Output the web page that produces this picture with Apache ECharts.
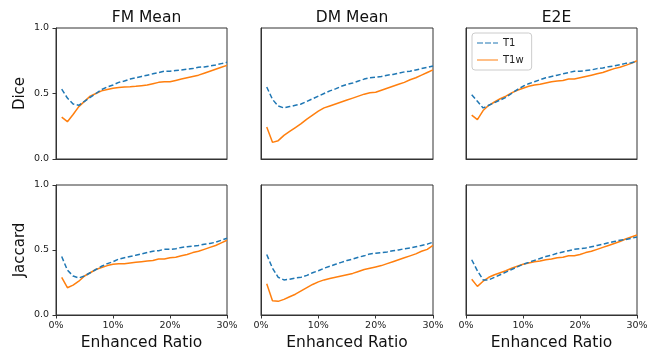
<!DOCTYPE html>
<html><head><meta charset="utf-8">
<script src="https://cdn.jsdelivr.net/npm/echarts@6/dist/echarts.min.js"></script>
<style>html,body{margin:0;padding:0;background:#fff}#c{width:660px;height:352px}</style>
</head><body><div id="c"></div>
<script>
const ratios = [1,2,3,4,5,6,7,8,9,10,11,12,13,14,15,16,17,18,19,20,21,22,23,24,25,26,27,28,29,30];
const methods = ['FM Mean','DM Mean','E2E'];
const metrics = ['Dice','Jaccard'];
const xTicks = ['0%','10%','20%','30%'];
const yTicks = ['0.0','0.5','1.0'];

const fmDiceT1  = [0.533,0.465,0.42,0.41,0.44,0.47,0.50,0.53,0.55,0.565,0.585,0.595,0.61,0.62,0.63,0.64,0.65,0.66,0.67,0.67,0.675,0.68,0.685,0.69,0.70,0.703,0.71,0.718,0.728,0.738];
const fmDiceT1w = [0.32,0.285,0.34,0.40,0.44,0.48,0.50,0.52,0.53,0.54,0.545,0.55,0.552,0.555,0.56,0.565,0.575,0.585,0.59,0.59,0.60,0.61,0.62,0.63,0.64,0.655,0.67,0.685,0.70,0.715];
const dmDiceT1  = [0.55,0.455,0.405,0.39,0.40,0.41,0.42,0.44,0.46,0.48,0.50,0.52,0.535,0.555,0.57,0.58,0.595,0.61,0.62,0.625,0.63,0.64,0.645,0.655,0.665,0.67,0.68,0.69,0.70,0.71];
const dmDiceT1w = [0.245,0.127,0.14,0.18,0.21,0.24,0.27,0.305,0.335,0.365,0.39,0.405,0.42,0.435,0.45,0.465,0.48,0.495,0.505,0.51,0.525,0.54,0.555,0.57,0.585,0.605,0.62,0.64,0.66,0.68];
const e2eDiceT1  = [0.49,0.44,0.39,0.41,0.43,0.45,0.47,0.50,0.53,0.555,0.575,0.59,0.605,0.62,0.63,0.64,0.65,0.66,0.67,0.67,0.675,0.68,0.69,0.695,0.705,0.71,0.72,0.73,0.735,0.745];
const e2eDiceT1w = [0.335,0.30,0.37,0.41,0.435,0.46,0.48,0.505,0.525,0.54,0.555,0.565,0.57,0.58,0.59,0.595,0.60,0.61,0.61,0.62,0.63,0.64,0.65,0.66,0.675,0.69,0.70,0.715,0.73,0.75];
const fmJacT1  = [0.45,0.345,0.30,0.285,0.30,0.325,0.35,0.375,0.395,0.41,0.43,0.44,0.45,0.46,0.47,0.48,0.49,0.495,0.505,0.505,0.51,0.52,0.525,0.53,0.535,0.545,0.55,0.56,0.575,0.59];
const fmJacT1w = [0.29,0.21,0.23,0.26,0.30,0.325,0.35,0.365,0.38,0.39,0.395,0.395,0.40,0.405,0.41,0.415,0.42,0.43,0.43,0.44,0.445,0.455,0.465,0.48,0.49,0.505,0.52,0.535,0.555,0.575];
const dmJacT1  = [0.465,0.36,0.29,0.27,0.275,0.285,0.29,0.305,0.325,0.34,0.36,0.375,0.39,0.405,0.42,0.43,0.445,0.455,0.47,0.475,0.48,0.485,0.495,0.50,0.51,0.515,0.525,0.535,0.545,0.56];
const dmJacT1w = [0.24,0.11,0.105,0.12,0.14,0.16,0.185,0.21,0.235,0.255,0.27,0.28,0.29,0.30,0.31,0.32,0.335,0.35,0.36,0.37,0.38,0.395,0.41,0.425,0.44,0.455,0.47,0.49,0.505,0.535];
const e2eJacT1  = [0.425,0.34,0.27,0.27,0.29,0.31,0.33,0.35,0.37,0.39,0.405,0.42,0.435,0.45,0.46,0.475,0.485,0.495,0.505,0.51,0.515,0.525,0.535,0.545,0.555,0.565,0.575,0.58,0.59,0.60];
const e2eJacT1w = [0.275,0.22,0.26,0.29,0.31,0.325,0.34,0.36,0.375,0.39,0.40,0.41,0.415,0.425,0.43,0.44,0.445,0.455,0.455,0.465,0.48,0.49,0.505,0.52,0.535,0.55,0.565,0.585,0.60,0.615];

const panelT1  = [[fmDiceT1,dmDiceT1,e2eDiceT1],[fmJacT1,dmJacT1,e2eJacT1]];
const panelT1w = [[fmDiceT1w,dmDiceT1w,e2eDiceT1w],[fmJacT1w,dmJacT1w,e2eJacT1w]];

const FONT = 'DejaVu Sans';
const lefts = [56, 261, 466];
const widths = [171, 172, 171];
const tops = [28, 185];
const heights = [131, 132];

const grids = [], xAxes = [], yAxes = [], series = [], titles = [];
for (let r = 0; r < 2; r++) {
  for (let c = 0; c < 3; c++) {
    const i = r * 3 + c;
    grids.push({left: lefts[c], top: tops[r], width: widths[c], height: heights[r],
                show: true, borderColor: '#333', borderWidth: 1, backgroundColor: 'transparent'});
    xAxes.push({
      type: 'value', gridIndex: i, min: 0, max: 30, interval: 10,
      axisLine: {show: true, onZero: false, lineStyle: {color: '#333', width: 1}},
      axisTick: {show: r === 1, length: 3.5, lineStyle: {color: '#333'}},
      axisLabel: {show: r === 1, margin: 6, fontFamily: FONT, fontSize: 9.5, color: '#222',
                  formatter: v => xTicks[Math.round(v / 10)]},
      splitLine: {show: false},
      name: r === 1 ? 'Enhanced Ratio' : '', nameLocation: 'middle', nameGap: 20,
      nameTextStyle: {fontFamily: FONT, fontSize: 15.5, color: '#111'}
    });
    yAxes.push({
      type: 'value', gridIndex: i, min: 0, max: 1, interval: 0.5,
      axisLine: {show: true, onZero: false, lineStyle: {color: '#333', width: 1}},
      axisTick: {show: c === 0, length: 3.5, lineStyle: {color: '#333'}},
      axisLabel: {show: c === 0, margin: 7, fontFamily: FONT, fontSize: 9.5, color: '#222',
                  formatter: v => yTicks[Math.round(v * 2)]},
      splitLine: {show: false},
      name: c === 0 ? metrics[r] : '', nameLocation: 'middle', nameGap: 28,
      nameTextStyle: {fontFamily: FONT, fontSize: 15, color: '#111'}
    });
    series.push({
      name: 'T1', type: 'line', xAxisIndex: i, yAxisIndex: i, symbol: 'none',
      data: ratios.map((x, k) => [x, panelT1[r][c][k]]),
      lineStyle: {color: '#1f77b4', width: 1.5, type: [5, 2.5]}, itemStyle: {color: '#1f77b4'},
      animation: false, z: 3
    });
    series.push({
      name: 'T1w', type: 'line', xAxisIndex: i, yAxisIndex: i, symbol: 'none',
      data: ratios.map((x, k) => [x, panelT1w[r][c][k]]),
      lineStyle: {color: '#ff7f0e', width: 1.5}, itemStyle: {color: '#ff7f0e'},
      animation: false, z: 2
    });
  }
}
for (let c = 0; c < 3; c++) {
  titles.push({
    text: methods[c], left: lefts[c] + widths[c] / 2, top: 5, textAlign: 'center',
    textStyle: {fontFamily: FONT, fontSize: 15.5, fontWeight: 'normal', color: '#111'}
  });
}

const chart = echarts.init(document.getElementById('c'), null, {renderer: 'canvas'});
chart.setOption({
  animation: false,
  backgroundColor: '#fff',
  title: titles,
  grid: grids, xAxis: xAxes, yAxis: yAxes, series: series,
  legend: {
    data: [
      {name: 'T1', icon: 'path://M0,0h6v1h-6z M8,0h6v1h-6z M16,0h5v1h-5z', itemStyle: {color: '#1f77b4'}},
      {name: 'T1w', icon: 'path://M0,0h21v1h-21z', itemStyle: {color: '#ff7f0e'}}
    ],
    orient: 'vertical', left: 472, top: 33,
    itemWidth: 21, itemHeight: 1.5, itemGap: 7,
    backgroundColor: '#fff', borderColor: '#ccc', borderWidth: 1, borderRadius: 3,
    padding: [5, 8, 5, 5],
    textStyle: {fontFamily: FONT, fontSize: 10, color: '#222', padding: [0, 0, 0, 0], height: 8, lineHeight: 8}
  }
});
</script></body></html>
